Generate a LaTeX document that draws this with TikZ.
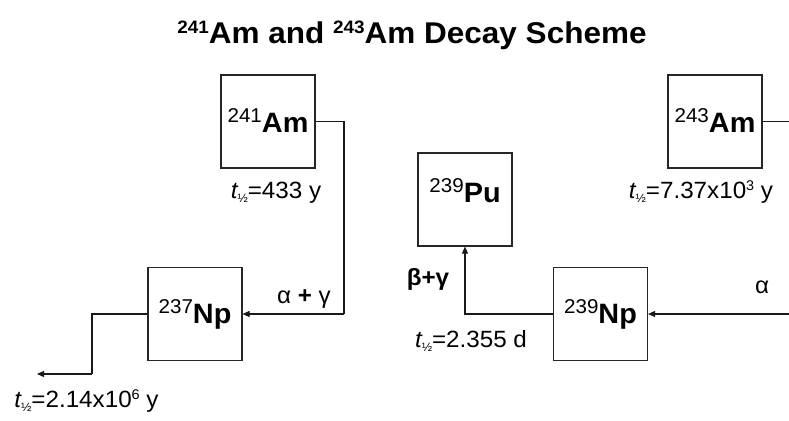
\documentclass[tikz,border=0pt]{standalone}
\usepackage{fontspec}
\setmainfont{Liberation Sans}
\usetikzlibrary{arrows.meta}
\newcommand{\hs}[1]{\scalebox{1.03}[1]{#1}}
\newcommand{\isobox}[2]{\hs{\raisebox{10pt}{\fontsize{20}{20}\selectfont #1}\fontsize{28}{28}\selectfont\bfseries #2}}
\newcommand{\thalf}{{\itshape t}\raisebox{-4pt}{\fontsize{12}{12}\selectfont ½}}
\newcommand{\upx}[1]{\raisebox{8pt}{\fontsize{14}{14}\selectfont #1}}
\begin{document}
\begin{tikzpicture}[x=1pt,y=-1pt,
  box/.style={draw=black!85, line width=1.1pt, minimum width=94pt, minimum height=93pt, inner sep=0pt, text depth=0pt},
  conn/.style={draw=black!90, line width=1.1pt},
  arr/.style={conn, -{Triangle[length=7pt,width=6pt]}},
  lbl/.style={inner sep=0pt, anchor=base, font=\fontsize{23.5}{23.5}\selectfont}]
\useasboundingbox (0,0) rectangle (789,420);
\fill[white] (0,0) rectangle (789,420);
% title
\node[inner sep=0pt, anchor=base] (title) at (412,44)
  {\scalebox{1.05}[1]{\fontsize{30}{30}\selectfont\bfseries\raisebox{10pt}{\fontsize{18}{18}\selectfont 241}Am and \raisebox{10pt}{\fontsize{18}{18}\selectfont 243}Am Decay Scheme}};
% boxes
\node[box, text height=21pt] (am241) at (268,121.5) {\isobox{241}{Am}};
\node[box, text height=18pt] (np237) at (195,314) {\isobox{237}{Np}};
\node[box, text height=5pt] (pu239) at (465,199.5) {\isobox{239}{Pu}};
\node[box, text height=18pt] (np239) at (600.5,314) {\isobox{239}{Np}};
\node[box, text height=21pt] (am243) at (715,121.5) {\isobox{243}{Am}};
% helper coordinates
\coordinate (k1) at (344,314);
\coordinate (k2) at (92,374);
\coordinate (e1) at (37,374);
\coordinate (e2) at (789,314);
\coordinate (e3) at (789,121.5);
% connectors
\draw[conn] (am241.east) -| (k1);
\draw[arr] (k1) -- (np237.east);
\draw[conn] (np237.west) -| (k2);
\draw[arr] (k2) -- (e1);
\draw[arr] (np239.west) -| (pu239.south);
\draw[arr] (e2) -- (np239.east);
\draw[conn] (am243.east) -- (e3);
% labels
\node[lbl] (h241) at (276,198) {\hs{\thalf=433 y}};
\node[lbl] (h243) at (701,198) {\hs{\thalf=7.37x10\upx{3} y}};
\node[lbl] (h237) at (86.5,407) {\hs{\thalf=2.14x10\upx{6} y}};
\node[lbl] (h239) at (471,347) {\hs{\thalf=2.355 d}};
\node[lbl] (bg) at (428,285) {\hs{\bfseries β+γ}};
\node[lbl] (ag) at (304,303) {\hs{α \textbf{+} γ}};
\node[lbl] (a) at (762,293) {\hs{α}};
\end{tikzpicture}
\end{document}
